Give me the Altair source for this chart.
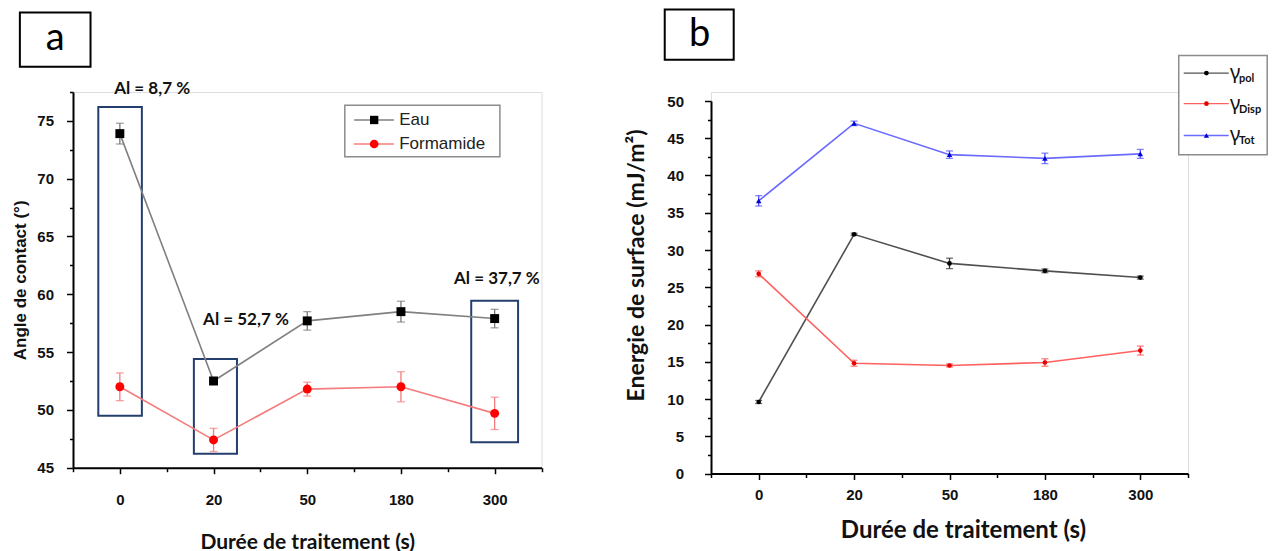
import altair as alt
import pandas as pd

# ---------------- data ----------------
cats = ["0", "20", "50", "180", "300"]

eau = [73.9, 52.5, 57.7, 58.5, 57.9]
eau_err = [0.9, 0.3, 0.8, 0.9, 0.8]
formamide = [52.0, 47.4, 51.8, 52.0, 49.7]
formamide_err = [1.2, 1.0, 0.6, 1.3, 1.4]

g_pol = [9.6, 32.1, 28.2, 27.2, 26.3]
g_pol_err = [0.2, 0.15, 0.7, 0.25, 0.2]
g_disp = [26.8, 14.8, 14.5, 14.9, 16.5]
g_disp_err = [0.4, 0.4, 0.2, 0.5, 0.6]
g_tot = [36.6, 47.0, 42.8, 42.3, 42.9]
g_tot_err = [0.7, 0.3, 0.5, 0.7, 0.6]

al_labels = ["Al = 8,7 %", "Al = 52,7 %", "Al = 37,7 %"]
left_legend = ["Eau", "Formamide"]
right_legend_sub = ["pol", "Disp", "Tot"]


def series(vals, errs):
    return pd.DataFrame({
        "x": list(range(len(cats))),
        "cat": cats,
        "y": vals,
        "lo": [v - e for v, e in zip(vals, errs)],
        "hi": [v + e for v, e in zip(vals, errs)],
    })


# ---------------- axes ----------------
lab_expr = "datum.value % 1 === 0 ? " + str(cats) + "[datum.value] : ''"
xvals = [-0.5 + 0.5 * k for k in range(11)]
minor_x = {"condition": {"test": "datum.value % 1 !== 0", "value": 4}, "value": 6}
minor_y = {"condition": {"test": "datum.value % 5 !== 0", "value": 3.5}, "value": 6.5}

AX_COMMON = dict(
    grid=False, domainColor="black", domainWidth=2, tickColor="black", tickWidth=1.5,
    labelFont="Liberation Sans", labelFontWeight="bold", labelFontSize=15, labelColor="#111",
    titleColor="#111", titleFontWeight="bold",
)

L_xaxis = alt.Axis(values=xvals, labelExpr=lab_expr, tickSize=minor_x, labelPadding=19,
                   title="Durée de traitement (s)", titleFont="Lato", titleFontSize=21,
                   titlePadding=24, **AX_COMMON)
L_yaxis = alt.Axis(values=[45 + 2.5 * k for k in range(14)],
                   labelExpr="datum.value % 5 === 0 ? datum.label : ''", tickSize=minor_y,
                   labelPadding=13, title="Angle de contact (°)", titleFont="Liberation Sans",
                   titleFontSize=17, titlePadding=7, **AX_COMMON)
R_xaxis = alt.Axis(values=xvals, labelExpr=lab_expr, tickSize=minor_x, labelPadding=8,
                   title="Durée de traitement (s)", titleFont="Lato", titleFontSize=24,
                   titleX=252, titleY=57, titleBaseline="middle", **AX_COMMON)
R_yaxis = alt.Axis(values=[2.5 * k for k in range(21)],
                   labelExpr="datum.value % 5 === 0 ? datum.label : ''", tickSize=minor_y,
                   labelPadding=21, title="Energie de surface (mJ/m²)", titleFont="Lato",
                   titleFontSize=23, titleX=-75, titleY=173, titleBaseline="middle",
                   titleAngle=270, **AX_COMMON)

R_H = 381.5
L_xs = alt.Scale(domain=[-0.5, 4.5], nice=False, zero=False)
L_ys = alt.Scale(domain=[45, 77.5], nice=False, zero=False)
R_xs = alt.Scale(domain=[-0.5, 4.5], nice=False, zero=False)
R_ys = alt.Scale(domain=[0, 50], nice=False, zero=False, range=[R_H, 9])


def LX(f="x"):
    return alt.X(f"{f}:Q", scale=L_xs, axis=L_xaxis)


def LY(f="y"):
    return alt.Y(f"{f}:Q", scale=L_ys, axis=L_yaxis)


def RX(f="x"):
    return alt.X(f"{f}:Q", scale=R_xs, axis=R_xaxis)


def RY(f="y"):
    return alt.Y(f"{f}:Q", scale=R_ys, axis=R_yaxis)


def series_layers(df, X, Y, line_col, pt_col, err_col, shape, size, cap):
    base = alt.Chart(df)
    line = base.mark_line(color=line_col, strokeWidth=1.6).encode(x=X(), y=Y())
    rule = base.mark_rule(color=err_col, strokeWidth=1.3).encode(x=X(), y=Y("lo"), y2="hi:Q")
    cap_lo = base.mark_tick(color=err_col, orient="horizontal", size=cap, thickness=1.3).encode(x=X(), y=Y("lo"))
    cap_hi = base.mark_tick(color=err_col, orient="horizontal", size=cap, thickness=1.3).encode(x=X(), y=Y("hi"))
    pts = base.mark_point(filled=True, shape=shape, size=size, color=pt_col, opacity=1).encode(x=X(), y=Y())
    return [line, rule, cap_lo, cap_hi, pts]


# ---------------- left panel ----------------
NAVY = "#243f6e"
left_boxes = pd.DataFrame({"x": [-0.23, 0.79, 3.75], "x2": [0.235, 1.25, 4.25],
                           "y": [49.5, 46.2, 47.2], "y2": [76.2, 54.4, 59.45]})
boxes_L = alt.Chart(left_boxes).mark_rect(fill=None, stroke=NAVY, strokeWidth=2).encode(
    x=LX(), x2="x2:Q", y=LY(), y2="y2:Q")

al_df = pd.DataFrame({"x": [0.345, 1.346, 4.024], "y": [77.76, 57.78, 61.29], "t": al_labels})
al_text = alt.Chart(al_df).mark_text(font="Lato", fontWeight="bold", fontSize=17, color="#111").encode(
    x=LX(), y=LY(), text="t:N")

# legend (left)
lg_box = alt.Chart(pd.DataFrame({"x": [2.401], "x2": [4.056], "y": [71.89], "y2": [76.35]})).mark_rect(
    fill="white", stroke="#8c8c8c", strokeWidth=1.5).encode(x=LX(), x2="x2:Q", y=LY(), y2="y2:Q")
lg_rows = pd.DataFrame({"x": [2.5, 2.5], "x2": [2.925, 2.925], "xm": [2.714, 2.714], "xt": [2.981, 2.981],
                        "y": [75.08, 73.0], "t": left_legend})
lg_line_e = alt.Chart(lg_rows.iloc[[0]]).mark_rule(color="#7f7f7f", strokeWidth=1.5).encode(
    x=LX(), x2="x2:Q", y=LY())
lg_line_f = alt.Chart(lg_rows.iloc[[1]]).mark_rule(color="#f47c7c", strokeWidth=1.5).encode(
    x=LX(), x2="x2:Q", y=LY())
lg_pt_e = alt.Chart(lg_rows.iloc[[0]]).mark_point(filled=True, shape="square", size=70, color="black", opacity=1).encode(
    x=LX("xm"), y=LY())
lg_pt_f = alt.Chart(lg_rows.iloc[[1]]).mark_point(filled=True, shape="circle", size=75, color="red", opacity=1).encode(
    x=LX("xm"), y=LY())
lg_txt = alt.Chart(lg_rows).mark_text(align="left", font="Liberation Sans", fontSize=17, color="#222").encode(
    x=LX("xt"), y=LY(), text="t:N")

# panel label a
a_box = alt.Chart(pd.DataFrame({"x": [-1.067], "x2": [-0.313], "y": [79.69], "y2": [84.37]})).mark_rect(
    fill=None, stroke="black", strokeWidth=2).encode(x=LX(), x2="x2:Q", y=LY(), y2="y2:Q")
a_txt = alt.Chart(pd.DataFrame({"x": [-0.69], "y": [82.1], "t": ["a"]})).mark_text(
    font="Lato", fontSize=38, color="black").encode(x=LX(), y=LY(), text="t:N")

left_layers = [boxes_L]
left_layers += series_layers(series(eau, eau_err), LX, LY, "#808080", "black", "#7a7a7a", "square", 80, 8)
left_layers += series_layers(series(formamide, formamide_err), LX, LY, "#f47c7c", "#ff0000", "#f47c7c", "circle", 80, 8)
left_layers += [al_text, lg_box, lg_line_e, lg_line_f, lg_pt_e, lg_pt_f, lg_txt, a_box, a_txt]
left = alt.layer(*left_layers).properties(width=468.5, height=375.7)

# ---------------- right panel ----------------
right_layers = []
right_layers += series_layers(series(g_pol, g_pol_err), RX, RY, "#505050", "black", "#333333", "circle", 22, 7)
right_layers += series_layers(series(g_disp, g_disp_err), RX, RY, "#ff6060", "#e60000", "#ff5050", "circle", 22, 7)
right_layers += series_layers(series(g_tot, g_tot_err), RX, RY, "#6b6bff", "#0000d0", "#5050ff", "triangle-up", 30, 7)

rg_box = alt.Chart(pd.DataFrame({"x": [4.403], "x2": [5.33], "y": [42.78], "y2": [56.1]})).mark_rect(
    fill="white", stroke="#8c8c8c", strokeWidth=1.5).encode(x=RX(), x2="x2:Q", y=RY(), y2="y2:Q")
rg_rows = pd.DataFrame({"x": [4.455] * 3, "x2": [4.927] * 3, "xm": [4.693] * 3, "xg": [4.94] * 3,
                        "xs": [5.035] * 3, "y": [53.75, 49.64, 45.37], "ys": [52.95, 48.84, 44.57],
                        "t": right_legend_sub, "g": ["γ", "γ", "γ"]})
rg_cols = [("#505050", "black", "circle", 22), ("#ff6060", "#e60000", "circle", 22), ("#6b6bff", "#0000d0", "triangle-up", 28)]
rg_layers = [rg_box]
for k, (lc, pc, shp, sz) in enumerate(rg_cols):
    row = rg_rows.iloc[[k]]
    rg_layers.append(alt.Chart(row).mark_rule(color=lc, strokeWidth=1.3).encode(x=RX(), x2="x2:Q", y=RY()))
    rg_layers.append(alt.Chart(row).mark_point(filled=True, shape=shp, size=sz, color=pc, opacity=1).encode(
        x=RX("xm"), y=RY()))
rg_layers.append(alt.Chart(rg_rows).mark_text(align="left", font="Noto Sans", fontSize=20, color="#111").encode(
    x=RX("xg"), y=RY(), text="g:N"))
rg_layers.append(alt.Chart(rg_rows).mark_text(align="left", font="Lato", fontWeight="bold", fontSize=11, color="#111").encode(
    x=RX("xs"), y=RY("ys"), text="t:N"))

b_box = alt.Chart(pd.DataFrame({"x": [-0.985], "x2": [-0.262], "y": [55.53], "y2": [62.28]})).mark_rect(
    fill=None, stroke="black", strokeWidth=2).encode(x=RX(), x2="x2:Q", y=RY(), y2="y2:Q")
b_txt = alt.Chart(pd.DataFrame({"x": [-0.618], "y": [58.9], "t": ["b"]})).mark_text(
    font="Lato", fontSize=38, color="black").encode(x=RX(), y=RY(), text="t:N")

right = alt.layer(*(right_layers + rg_layers + [b_box, b_txt])).properties(width=477, height=R_H)

chart = alt.hconcat(left, right, spacing=80).properties(
    padding={"left": 3, "top": 0, "right": 0, "bottom": 0}
).configure_view(stroke=None).configure(background="white")

chart.save("out.html", embed_options={"renderer": "svg", "actions": False})
